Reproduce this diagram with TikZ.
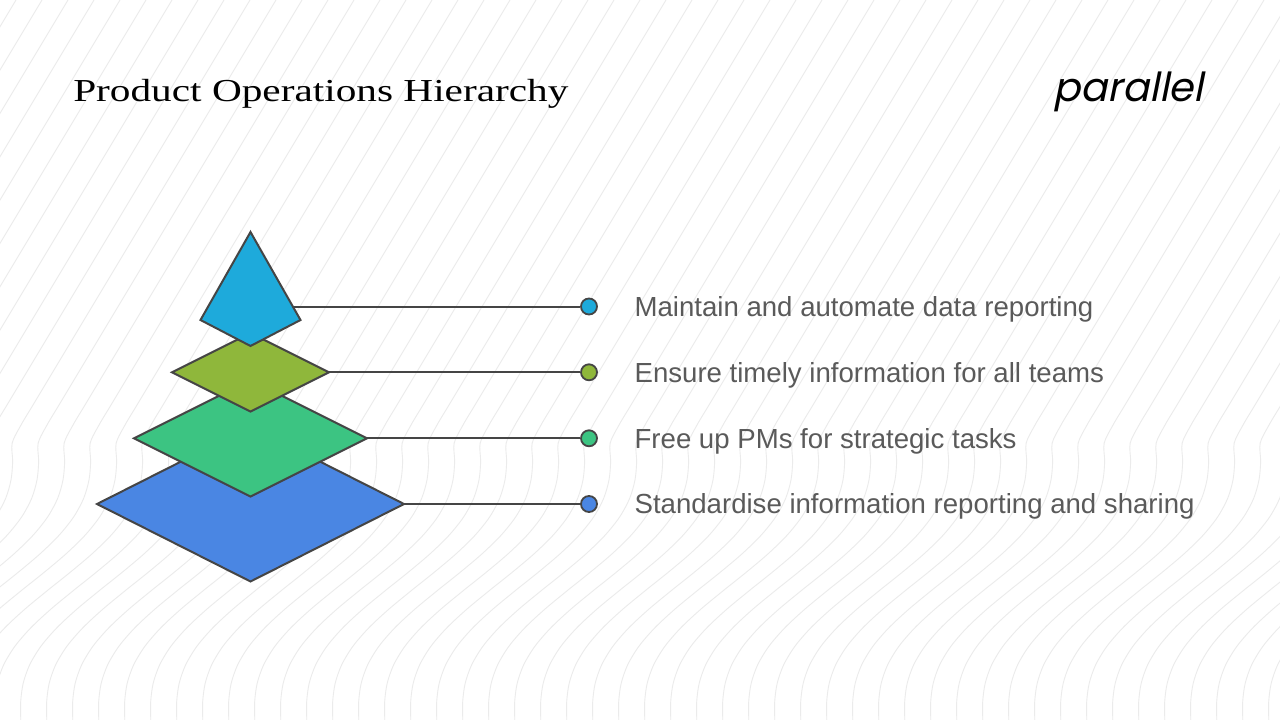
\documentclass[tikz,border=0pt]{standalone}
\usepackage{fontspec}
\setmainfont{Liberation Serif}
\setsansfont{Liberation Sans}
\newfontfamily\logofont[FakeSlant=0.2]{Poppins}
\usetikzlibrary{positioning}

\definecolor{edgegray}{HTML}{454545}
\definecolor{textgray}{HTML}{5A5A5A}
\definecolor{bggray}{HTML}{EBEBEB}
\definecolor{topblue}{HTML}{1EAADB}
\definecolor{olive}{HTML}{8FB73B}
\definecolor{midgreen}{HTML}{3CC482}
\definecolor{basblue}{HTML}{4A86E3}

\tikzset{
  tier/.style={draw=edgegray, line width=2pt, line join=miter},
  link/.style={draw=edgegray, line width=2pt},
  dot/.style={circle, draw=edgegray, line width=1.8pt, minimum size=16pt, inner sep=0pt},
  lbl/.style={anchor=west, inner sep=0pt, text height=19.5pt, text depth=0pt,
    text=textgray, font=\sffamily\fontsize{27.6}{32}\selectfont},
  bgline/.style={draw=bggray, line width=0.9pt}
}

\begin{document}
\begin{tikzpicture}[x=1pt,y=-1pt,node distance=36.5pt]
  \useasboundingbox (0,0) rectangle (1280,720);
  \fill[white] (0,0) rectangle (1280,720);

  % background lines
  \begin{scope}
    \clip (0,0) rectangle (1280,720);
    \foreach \k in {-18,...,50}
      \draw[bgline] plot[domain=0:720, samples=40, smooth]
        ({\k*26 + 0.6*(720-\x) + 30*sin(max(0,\x-440)*1.25)}, \x);
  \end{scope}

  % title and logo
  \node[anchor=base west, inner sep=0pt, xscale=1.29, font=\fontsize{32}{36}\selectfont] (title) at (73,101) {Product Operations Hierarchy};
  \node[anchor=base west, inner sep=0pt, font=\logofont\fontsize{40}{44}\selectfont] (logo) at (1053,101) {parallel};

  % tiers, bottom up
  \draw[tier, fill=basblue] (97,504) -- (250.5,426.5) -- (404,504) coordinate (b4) -- (250.5,581.5) -- cycle;
  \draw[tier, fill=midgreen] (134,438.3) -- (250.5,380) -- (367,438.3) coordinate (b3) -- (250.5,496.6) -- cycle;
  \draw[tier, fill=olive] (172,372.3) -- (250.5,333) -- (329,372.3) coordinate (b2) -- (250.5,411.6) -- cycle;
  \draw[tier, fill=topblue] (250.5,232) -- (300.5,320) -- (250.5,346) -- (200.5,320) -- cycle;
  \coordinate (b1) at (292.8,306.5);

  % dots
  \node[dot, fill=topblue]  (d1) at (589,306.5) {};
  \node[dot, fill=olive]    (d2) at (589,372.3) {};
  \node[dot, fill=midgreen] (d3) at (589,438.3) {};
  \node[dot, fill=basblue]  (d4) at (589,504) {};

  \draw[link] (b1) -- (d1);
  \draw[link] (b2) -- (d2);
  \draw[link] (b3) -- (d3);
  \draw[link] (b4) -- (d4);

  % labels
  \node[lbl, right=of d1] (t1) {Maintain and automate data reporting};
  \node[lbl, right=of d2] (t2) {Ensure timely information for all teams};
  \node[lbl, right=of d3] (t3) {Free up PMs for strategic tasks};
  \node[lbl, right=of d4] (t4) {Standardise information reporting and sharing};
\end{tikzpicture}
\end{document}
